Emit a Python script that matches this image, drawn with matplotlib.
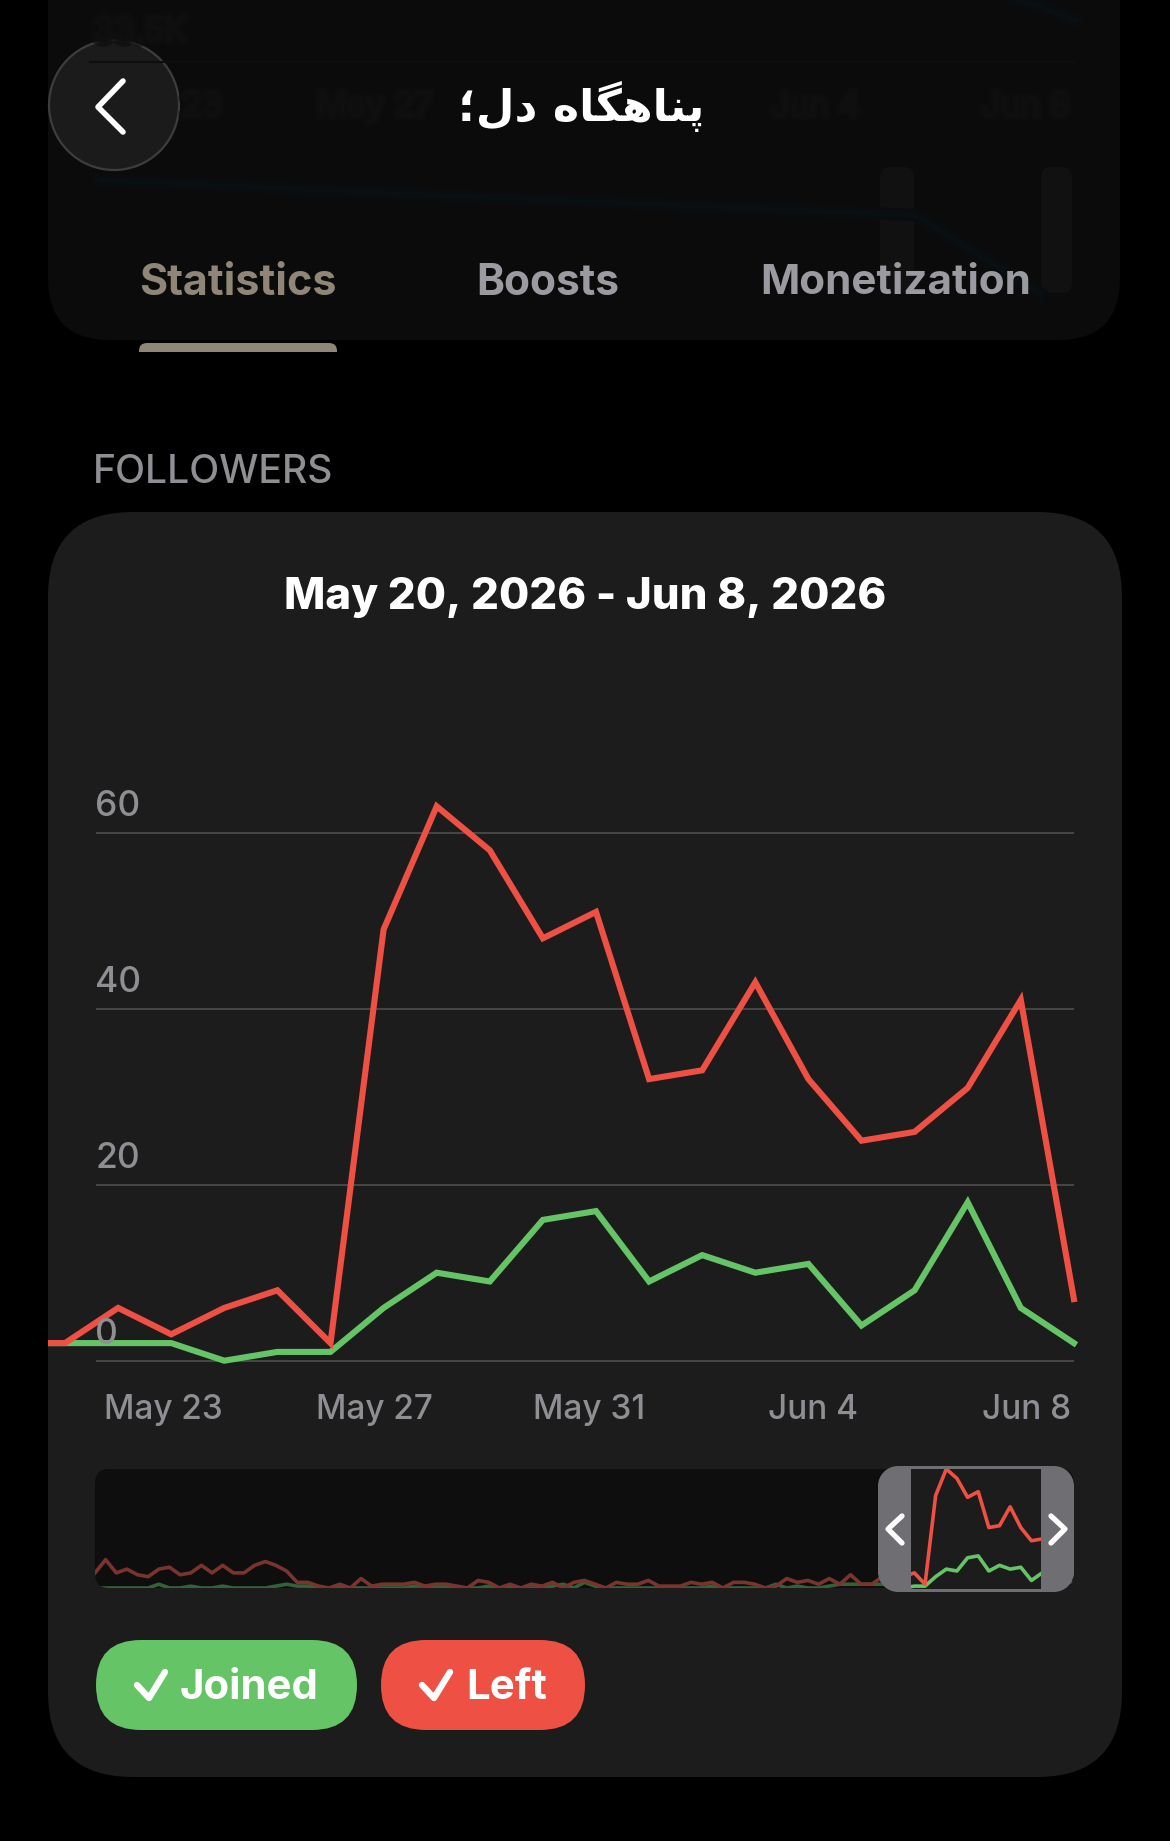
#!/usr/bin/env python

# Channel statistics screen: followers chart with overview strip

# Import external libraries
import numpy as np
import matplotlib
matplotlib.use('Agg')
import matplotlib.pyplot as plt
import matplotlib.patheffects as pe
from matplotlib.patches import FancyBboxPatch, Rectangle, Circle, PathPatch
from matplotlib.path import Path

# Some configuration
W = 1170
H = 1841
DPI = 100
FONT = 'Inter'

BLACK = '#000000'
CARD = '#1c1c1c'
FOG = '#0b0b0b'
GREEN = '#65c466'
RED = '#ee5143'
DIM_GREEN = '#34603a'
DIM_RED = '#7a342d'
GREY = '#8e8e93'
TAN = '#8f8677'
GRID = '#525252'
HANDLE = '#6e6e73'

# Followers per day, May 19 to Jun 8
LEFT = [2, 2, 6, 3, 6, 8, 2, 49, 63, 58, 48, 51, 32, 33, 43, 32, 25, 26, 31, 41, 7]
JOINED = [2, 2, 2, 2, 0, 1, 1, 6, 10, 9, 16, 17, 9, 12, 10, 11, 4, 8, 18, 6, 2]
Y_TICKS = [0, 20, 40, 60]
X_LABELS = ['May 23', 'May 27', 'May 31', 'Jun 4', 'Jun 8']

# Earlier days, only seen in the overview strip
LEFT_HISTORY = [8, 15, 8, 10, 7, 6, 10, 11, 7, 8, 12, 8, 12, 8, 8, 12, 14, 12, 9, 3,
                3, 1, 0, 2, 0, 5, 1, 2, 2, 2, 3, 1, 2, 2, 1, 0, 4, 3, 0, 2,
                0, 2, 1, 3, 0, 3, 4, 2, 0, 3, 2, 2, 4, 1, 1, 1, 3, 2, 3, 0,
                3, 3, 2, 0, 1, 5, 3, 4, 2, 5, 2, 7]
JOINED_HISTORY = [0, 0, 0, 0, 0, 0, 2, 0, 0, 1, 0, 0, 1, 0, 0, 0, 0, 1, 2, 1,
                  1, 0, 0, 0, 0, 0, 0, 0, 0, 0, 1, 1, 0, 1, 0, 0, 0, 1, 0, 1,
                  0, 0, 0, 1, 2, 0, 3, 1, 0, 0, 0, 0, 0, 0, 0, 0, 0, 0, 1, 0,
                  0, 0, 0, 0, 2, 0, 1, 0, 0, 1, 2, 2]

# Pixel layout of the main plot
DAY_PX = 53.1
DAY0_PX = 11.9
ZERO_PX = 1360.7
UNIT_PX = 8.8
GRID_X0 = 96
GRID_X1 = 1074
X_LABEL_PX = [163, 374, 589, 813, 1027]

# Pixel layout of the overview strip
STRIP = (95, 1469, 1074, 1588)
WINDOW = (911, 1469, 1041, 1589)
FRAME = (878, 1466, 1074, 1592)


def pxAxes(x0, y0, x1, y1, zorder):
    # Axes placed by pixel box, y going down
    ax = fig.add_axes([x0/W, 1-y1/H, (x1-x0)/W, (y1-y0)/H], zorder=zorder)
    ax.patch.set_alpha(0)
    return ax


def roundBox(ax, x0, y0, x1, y1, r, color, **kw):
    box = FancyBboxPatch((x0+r, y0+r), x1-x0-2*r, y1-y0-2*r,
                         boxstyle='round,pad=%f,rounding_size=%f' % (r, r),
                         fc=color, ec='none', **kw)
    ax.add_patch(box)
    return box


def polyline(ax, pts, color, lw, **kw):
    xs, ys = zip(*pts)
    ax.plot(xs, ys, color=color, lw=lw, solid_capstyle='round',
            solid_joinstyle='round', **kw)


def fogText(ax, x, y, s):
    # Washed out text behind the header
    t = ax.text(x, y, s, color='#0f0f0f', fontsize=24, family=FONT,
                ha='center', va='center')
    t.set_path_effects([pe.withStroke(linewidth=8, foreground='#0d0d0d', alpha=0.6),
                        pe.withStroke(linewidth=4, foreground='#101010', alpha=0.7)])


fig = plt.figure(figsize=(W/DPI, H/DPI), dpi=DPI, facecolor=BLACK)

# Full size layers for the screen furniture
bg = pxAxes(0, 0, W, H, 0)
bg.set_xlim(0, W)
bg.set_ylim(H, 0)
bg.axis('off')

top = pxAxes(0, 0, W, H, 5)
top.set_xlim(0, W)
top.set_ylim(H, 0)
top.axis('off')

# Header card with the chart behind it fogged out
roundBox(bg, 48, -120, 1120, 340, 62, FOG)
bg.plot([90, 1075], [62, 62], color='#0e0e0e', lw=1.5)
for w, c in [(9, '#0a0d0f'), (4, '#0a0f12')]:
    bg.plot([1000, 1040, 1075], [-4, 6, 20], color=c, lw=w)
    bg.plot([100, 500, 915, 1040], [180, 198, 215, 293], color=c, lw=w)
fogText(bg, 140, 32, '33.5K')
fogText(bg, 202, 107, '23')
fogText(bg, 375, 107, 'May 27')
fogText(bg, 815, 107, 'Jun 4')
fogText(bg, 1026, 107, 'Jun 8')
roundBox(bg, 880, 167, 914, 293, 10, '#111111')
roundBox(bg, 1041, 167, 1072, 293, 10, '#111111')

# Back button
bg.add_patch(Circle((114, 105), 65, fc='#1b1b1b', ec='#3d3d3d', lw=1.6))
polyline(bg, [(123, 81), (98, 107), (123, 132)], 'white', 4)

# Arabic letters in presentation forms, laid out left to right
TITLE = '\u061b\ufedd\ufea9 \ufee9\ufe8e\ufb95\ufeeb\ufe8e\ufee8\ufb58'
bg.text(581, 106, TITLE, color='white', fontsize=32, fontweight='bold',
        family='DejaVu Sans', ha='center', va='center')

# Tabs
for x, s, c, size in [(238, 'Statistics', TAN, 31), (548, 'Boosts', '#9a9aa0', 30.6),
                      (896, 'Monetization', '#9a9aa0', 30.4)]:
    bg.text(x, 283, s, color=c, fontsize=size, fontweight='bold', family=FONT,
            ha='center', va='center')
roundBox(bg, 139, 343, 337, 362, 8, TAN)
bg.add_patch(Rectangle((130, 352), 220, 12, fc=BLACK, ec='none'))

bg.text(93, 483, 'FOLLOWERS', color=GREY, fontsize=28.2, fontweight='medium',
        family=FONT, ha='left', va='baseline')

# Chart card
roundBox(bg, 48, 512, 1122, 1777, 85, CARD)
bg.text(585, 597, 'May 20, 2026 - Jun 8, 2026', color='white', fontsize=31.5,
        fontweight='heavy', family=FONT, ha='center', va='center')

# Main plot, x in days from May 19
AX_X0, AX_X1 = 48, 1080
AX_Y0, AX_Y1 = 780, 1370
ax = pxAxes(AX_X0, AX_Y0, AX_X1, AX_Y1, 1)
ax.set_xlim((AX_X0-DAY0_PX)/DAY_PX, (AX_X1-DAY0_PX)/DAY_PX)
ax.set_ylim((ZERO_PX-AX_Y1)/UNIT_PX, (ZERO_PX-AX_Y0)/UNIT_PX)
for s in ax.spines.values():
    s.set_visible(False)

days = np.arange(len(LEFT))
ax.hlines(Y_TICKS, (GRID_X0-DAY0_PX)/DAY_PX, (GRID_X1-DAY0_PX)/DAY_PX,
          color=GRID, lw=1.1, zorder=1)
ax.plot(days, JOINED, color=GREEN, lw=4.4, solid_joinstyle='miter', zorder=2)
ax.plot(days, LEFT, color=RED, lw=4.4, solid_joinstyle='miter', zorder=3)

for v in Y_TICKS:
    ax.annotate(str(v), ((GRID_X0-1-DAY0_PX)/DAY_PX, v), xytext=(0, 12),
                textcoords='offset points', color=GREY, fontsize=25.5,
                fontweight='medium', family=FONT, ha='left', va='baseline', zorder=5)

ax.set_yticks([])
ax.set_xticks([(x-DAY0_PX)/DAY_PX for x in X_LABEL_PX])
ax.set_xticklabels(X_LABELS, color=GREY, fontsize=24, fontweight='medium', family=FONT)
ax.tick_params(axis='x', length=0, pad=17)

# Overview strip
panel = roundBox(bg, STRIP[0], STRIP[1], STRIP[2], STRIP[3], 14, '#0e0e0e')

mini = pxAxes(STRIP[0], STRIP[1], STRIP[2], STRIP[3]+1, 2)
allLeft = LEFT_HISTORY + LEFT
allJoined = JOINED_HISTORY + JOINED
miniDays = np.arange(len(allLeft))
mini.set_xlim(0, len(allLeft)-1)
mini.set_ylim((0-1)/1.89, max(allLeft))
mini.axis('off')

for series, c in [(allJoined, DIM_GREEN), (allLeft, DIM_RED)]:
    line, = mini.plot(miniDays, series, color=c, lw=2.6, zorder=2)
    line.set_clip_path(panel)

# Selected range shown at full brightness
win = Rectangle((WINDOW[0], WINDOW[1]), WINDOW[2]-WINDOW[0], WINDOW[3]-WINDOW[1],
                fc=CARD, ec='none', transform=bg.transData, zorder=3)
mini.add_patch(win)
for series, c in [(allJoined, GREEN), (allLeft, RED)]:
    line, = mini.plot(miniDays, series, color=c, lw=2.6, zorder=4)
    line.set_clip_path(win)

# Selection frame with a hole for the range
r = 20
x0, y0, x1, y1 = FRAME
k = 0.45*r
outer = [(x0+r, y0), (x1-r, y0), (x1-k, y0), (x1, y0+k), (x1, y0+r), (x1, y1-r),
         (x1, y1-k), (x1-k, y1), (x1-r, y1), (x0+r, y1), (x0+k, y1), (x0, y1-k),
         (x0, y1-r), (x0, y0+r), (x0, y0+k), (x0+k, y0), (x0+r, y0)]
outerCodes = [Path.MOVETO, Path.LINETO, Path.CURVE4, Path.CURVE4, Path.CURVE4, Path.LINETO,
              Path.CURVE4, Path.CURVE4, Path.CURVE4, Path.LINETO, Path.CURVE4, Path.CURVE4,
              Path.CURVE4, Path.LINETO, Path.CURVE4, Path.CURVE4, Path.CURVE4]
hole = [(WINDOW[0], WINDOW[1]), (WINDOW[0], WINDOW[3]), (WINDOW[2], WINDOW[3]),
        (WINDOW[2], WINDOW[1]), (WINDOW[0], WINDOW[1])]
holeCodes = [Path.MOVETO, Path.LINETO, Path.LINETO, Path.LINETO, Path.CLOSEPOLY]
top.add_patch(PathPatch(Path(outer+hole, outerCodes+holeCodes), fc=HANDLE, ec='none'))
polyline(top, [(902, 1516), (888, 1529), (902, 1543)], 'white', 3.8)
polyline(top, [(1051, 1516), (1065, 1529), (1051, 1543)], 'white', 3.8)

# Series toggles
roundBox(bg, 96, 1640, 357, 1730, 45, GREEN)
roundBox(bg, 381, 1640, 585, 1730, 45, RED)
polyline(top, [(137, 1685), (149, 1698), (165, 1672)], 'white', 4.6)
polyline(top, [(422, 1685), (434, 1698), (450, 1672)], 'white', 4.6)
top.text(180, 1699, 'Joined', color='white', fontsize=30.2, fontweight='bold',
         family=FONT, ha='left', va='baseline')
top.text(466, 1699, 'Left', color='white', fontsize=30.2, fontweight='bold',
         family=FONT, ha='left', va='baseline')

fig.savefig('out.png', dpi=DPI, facecolor=BLACK)
